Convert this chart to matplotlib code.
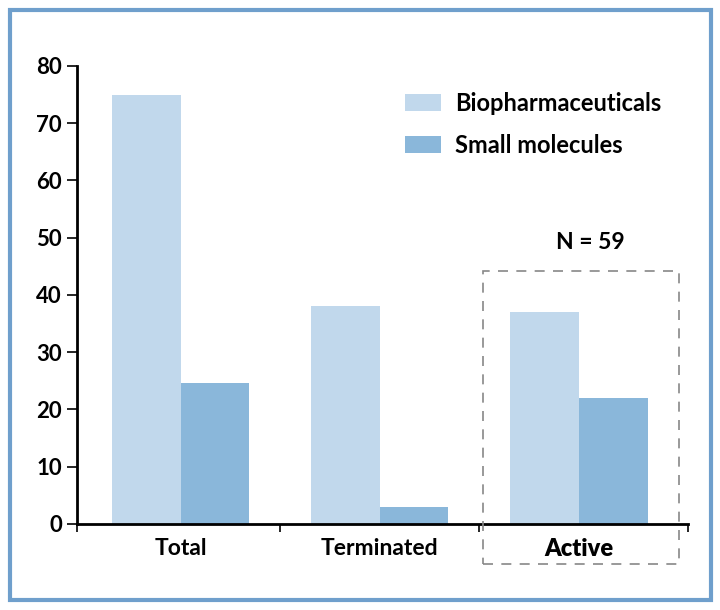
import matplotlib.pyplot as plt
import matplotlib.patches as patches
import numpy as np

plt.rcParams['font.family'] = ['Lato', 'DejaVu Sans']

categories = ['Total', 'Terminated', 'Active']
biopharma = [75, 38, 37]
small_mol = [24.7, 3, 22]
n_label = 'N = 59'

light = '#c1d8ec'
dark = '#8ab7da'

fig = plt.figure(figsize=(7.2, 6.1), dpi=100)
ax = fig.add_axes([0.107, 0.141, 0.849, 0.751])

x = np.arange(len(categories))
w = 0.345
ax.bar(x - w / 2, biopharma, w, color=light, label='Biopharmaceuticals')
ax.bar(x + w / 2, small_mol, w, color=dark, label='Small molecules')

ax.set_ylim(0, 80)
ax.set_xlim(-0.52, 2.55)
ax.set_yticks(range(0, 81, 10))
ax.set_xticks(x)
ax.set_xticklabels(categories)
ax.tick_params(axis='x', length=0, pad=10, labelsize=16.5)
ax.tick_params(axis='y', length=7, width=1.2, labelsize=16, pad=4)
for lab in ax.get_yticklabels():
    lab.set_fontweight('bold')
for lab in ax.get_xticklabels():
    lab.set_fontweight('bold')
ax.get_xticklabels()[2].set_fontweight('heavy')
ax.get_xticklabels()[2].set_fontsize(17)

# small down ticks between categories
ax.set_xticks([-0.52, 0.5, 1.5, 2.55], minor=True)
ax.tick_params(axis='x', which='minor', length=6, width=1.2, direction='out')

for s in ['top', 'right']:
    ax.spines[s].set_visible(False)
ax.spines['left'].set_linewidth(2)
ax.spines['bottom'].set_linewidth(2)

leg = ax.legend(loc='upper right', bbox_to_anchor=(0.99, 0.99), frameon=False,
                fontsize=17, handlelength=1.5, handleheight=0.75,
                handletextpad=0.6, labelspacing=0.8)
for t in leg.get_texts():
    t.set_fontweight('bold')

# dashed box around Active group
box = patches.Rectangle((0.671, 0.075), 0.272, 0.481, transform=fig.transFigure,
                        fill=False, ls=(0, (6, 5)), lw=1.2, ec='#888888')
fig.patches.append(box)
fig.text(0.820, 0.585, n_label, ha='center', va='bottom', fontsize=16.5,
         fontweight='bold')

# outer blue border
border = patches.Rectangle((0.014, 0.016), 0.974, 0.968, transform=fig.transFigure,
                           fill=False, lw=3, ec='#6f9fcc')
fig.patches.append(border)

fig.savefig('out.png', dpi=100)
